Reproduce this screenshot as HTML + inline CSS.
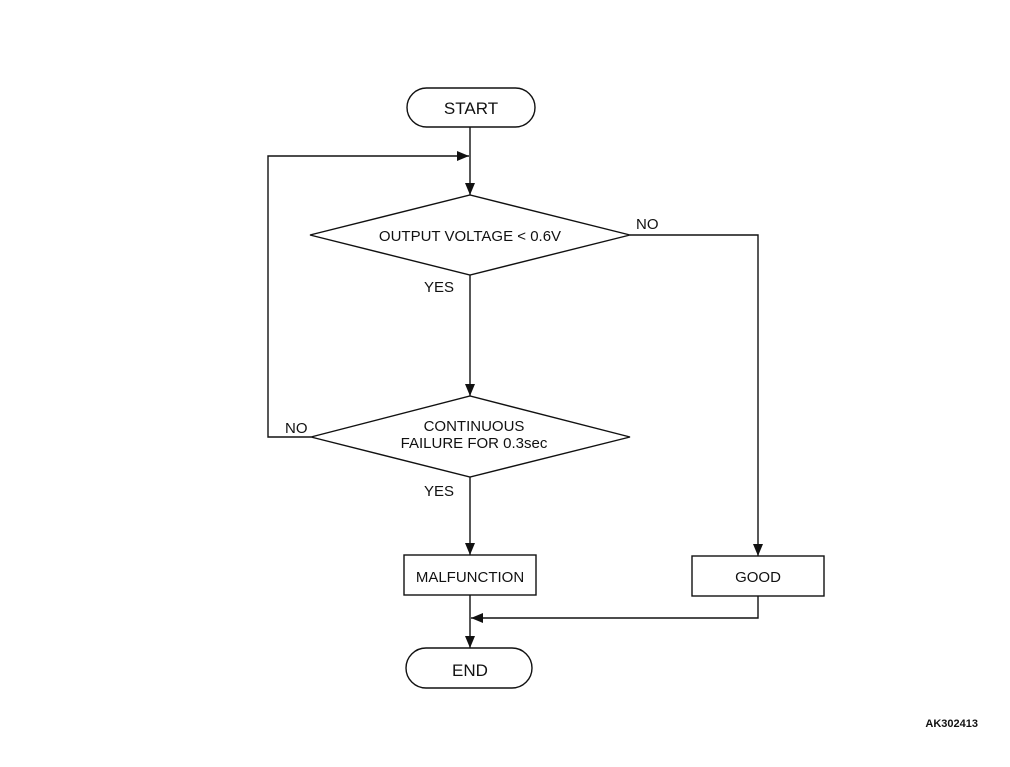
<!DOCTYPE html>
<html><head><meta charset="utf-8"><style>
html,body{margin:0;padding:0;background:#fff;}
svg{display:block;}
text{font-family:"Liberation Sans",Arial,sans-serif;font-size:15px;fill:#111;}
</style></head><body>
<svg width="1010" height="767" viewBox="0 0 1010 767" xmlns="http://www.w3.org/2000/svg">
<defs><marker id="a" markerWidth="12" markerHeight="10" refX="12" refY="5" orient="auto" markerUnits="userSpaceOnUse"><path d="M0,0 L12,5 L0,10 Z" fill="#111"/></marker></defs>
<g stroke="#111" stroke-width="1.4" fill="none">
<rect x="407" y="88" width="128" height="39" rx="19.5" fill="#fff"/>
<line x1="470" y1="127" x2="470" y2="195" marker-end="url(#a)"/>
<polyline points="311,437 268,437 268,156 469,156" marker-end="url(#a)"/>
<polygon points="310,235 470,195 630,235 470,275" fill="#fff"/>
<line x1="470" y1="275" x2="470" y2="396" marker-end="url(#a)"/>
<polyline points="630,235 758,235 758,556" marker-end="url(#a)"/>
<polygon points="311,437 470,396 630,437 470,477" fill="#fff"/>
<line x1="470" y1="477" x2="470" y2="555" marker-end="url(#a)"/>
<rect x="404" y="555" width="132" height="40" fill="#fff"/>
<rect x="692" y="556" width="132" height="40" fill="#fff"/>
<line x1="470" y1="595" x2="470" y2="648" marker-end="url(#a)"/>
<polyline points="758,596 758,618 471,618" marker-end="url(#a)"/>
<rect x="406" y="648" width="126" height="40" rx="20" fill="#fff"/>
</g>
<text x="471" y="114" text-anchor="middle" font-size="17" style="font-size:17px">START</text>
<text x="470" y="241" text-anchor="middle">OUTPUT VOLTAGE &lt; 0.6V</text>
<text x="636" y="229">NO</text>
<text x="424" y="292">YES</text>
<text x="474" y="431" text-anchor="middle">CONTINUOUS</text>
<text x="474" y="448" text-anchor="middle">FAILURE FOR 0.3sec</text>
<text x="285" y="433">NO</text>
<text x="424" y="496">YES</text>
<text x="470" y="582" text-anchor="middle">MALFUNCTION</text>
<text x="758" y="582" text-anchor="middle">GOOD</text>
<text x="470" y="676" text-anchor="middle" style="font-size:17px">END</text>
<text x="978" y="727" text-anchor="end" style="font-size:11px;font-weight:bold">AK302413</text>
</svg>
</body></html>
